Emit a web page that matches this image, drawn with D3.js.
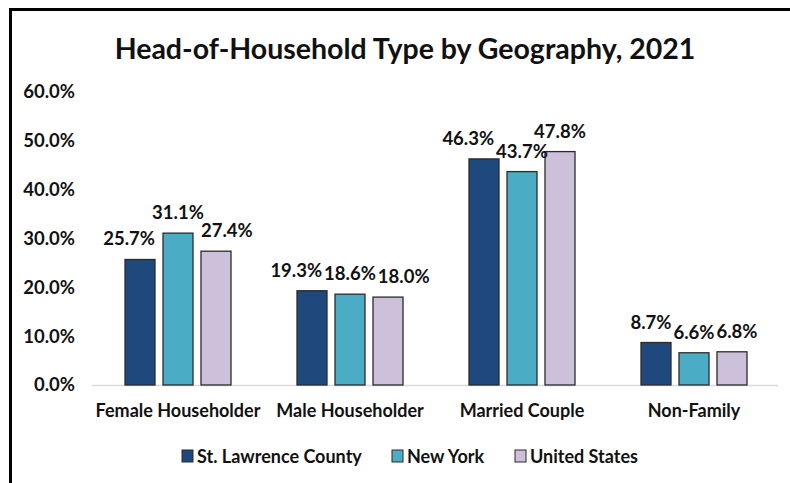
<!DOCTYPE html>
<html><head><meta charset="utf-8">
<script src="https://cdn.jsdelivr.net/npm/d3@7"></script>
<style>
html,body{margin:0;padding:0;background:#fff;}
text{font-family:Lato,"Open Sans",sans-serif;font-weight:700;fill:#111;}
</style></head>
<body>
<svg id="chart" width="790" height="483"></svg>
<script>
const title = "Head-of-Household Type by Geography, 2021";
const categories = ["Female Householder","Male Householder","Married Couple","Non-Family"];
const seriesNames = ["St. Lawrence County","New York","United States"];
const stLawrence = [25.7, 19.3, 46.3, 8.7];
const newYork = [31.1, 18.6, 43.7, 6.6];
const unitedStates = [27.4, 18.0, 47.8, 6.8];
const yTicks = [0,10,20,30,40,50,60];
const colors = ["#1F497D","#4BACC6","#CCC0DA"];

const seriesValues = [stLawrence, newYork, unitedStates];
const svg = d3.select("#chart");

// frame
svg.append("rect").attr("x",10.5).attr("y",9.5).attr("width",800).attr("height",500)
  .attr("fill","none").attr("stroke","#000").attr("stroke-width",3);

svg.append("text").attr("x",405).attr("y",59).attr("text-anchor","middle")
  .style("font-size","28.5px").text(title);

const y = d3.scaleLinear().domain([0,60]).range([385,92]);
const x0 = d3.scaleBand().domain(categories).range([92,780]).paddingInner(0.3837).paddingOuter(0.3837/2);
const x1 = d3.scaleBand().domain(seriesNames).range([0,x0.bandwidth()]).paddingInner(8/38);

// y axis labels
const yAxis = d3.axisLeft(y).tickValues(yTicks).tickSize(0).tickPadding(0)
  .tickFormat(d=>d3.format(".1f")(d)+"%");
const ga = svg.append("g").attr("transform","translate(75,0)").call(yAxis);
ga.select(".domain").remove();
ga.selectAll("text").attr("font-family",null).attr("font-size",null).style("font-size","18.5px").attr("fill","#111");

// baseline
svg.append("line").attr("x1",92).attr("x2",778).attr("y1",y(0)+0.5).attr("y2",y(0)+0.5)
  .attr("stroke","#d9d9d9").attr("stroke-width",1.5);

const groups = svg.append("g").selectAll("g").data(categories).join("g")
  .attr("transform",d=>`translate(${x0(d)},0)`);

groups.each(function(cat,ci){
  const g = d3.select(this);
  const bars = [], labels = [];
  seriesNames.forEach((s,si)=>{
    const v = seriesValues[si][ci];
    g.append("rect").attr("x",x1(s)).attr("y",y(v)).attr("width",x1.bandwidth()).attr("height",y(0)-y(v))
      .attr("fill",colors[si]).attr("stroke","#2b2b2b").attr("stroke-width",1.3);
    bars.push({l:x1(s), r:x1(s)+x1.bandwidth(), top:y(v)});
  });
  seriesNames.forEach((s,si)=>{
    const v = seriesValues[si][ci];
    const t = g.append("text").attr("x",x1(s)+x1.bandwidth()/2).attr("y",y(v)-14).attr("text-anchor","middle")
      .style("font-size","18.5px").text(d3.format(".1f")(v)+"%");
    labels.push(t);
  });
  // collision avoidance (like the spreadsheet's label placement): middle label stays, outer labels pushed outward
  const mid = labels[1].node().getBBox();
  const midBar = bars[1];
  [0,2].forEach(i=>{
    const b = labels[i].node().getBBox();
    let shift = 0;
    const vOverlapLabel = !(b.y + b.height - 4 < mid.y + 3 || b.y + 3 > mid.y + mid.height - 4);
    const barIntrudes = midBar.top < b.y + b.height - 3;
    if(i===0){
      let limit = Infinity;
      if(vOverlapLabel) limit = Math.min(limit, mid.x - 2);
      if(barIntrudes) limit = Math.min(limit, midBar.l - 8);
      if(b.x + b.width > limit) shift = limit - (b.x + b.width);
    } else {
      let limit = -Infinity;
      if(vOverlapLabel) limit = Math.max(limit, mid.x + mid.width + 2);
      if(barIntrudes) limit = Math.max(limit, midBar.r + 8);
      if(b.x < limit) shift = limit - b.x;
    }
    labels[i].attr("x", +labels[i].attr("x") + shift);
  });
});

// category labels
const xAxis = d3.axisBottom(x0).tickSize(0).tickPadding(0);
const gx = svg.append("g").attr("transform","translate(0,404)").call(xAxis);
gx.select(".domain").remove();
gx.selectAll("text").attr("font-family",null).attr("font-size",null).style("font-size","18px").attr("fill","#111");

// legend
const legendX = [182, 392, 515];
const lg = svg.append("g");
seriesNames.forEach((s,i)=>{
  lg.append("rect").attr("x",legendX[i]).attr("y",450).attr("width",11).attr("height",12)
    .attr("fill",colors[i]).attr("stroke","#2b2b2b").attr("stroke-width",1);
  lg.append("text").attr("x",legendX[i]+15).attr("y",456).attr("dominant-baseline","central")
    .style("font-size","18px").text(s);
});
</script>
</body></html>
